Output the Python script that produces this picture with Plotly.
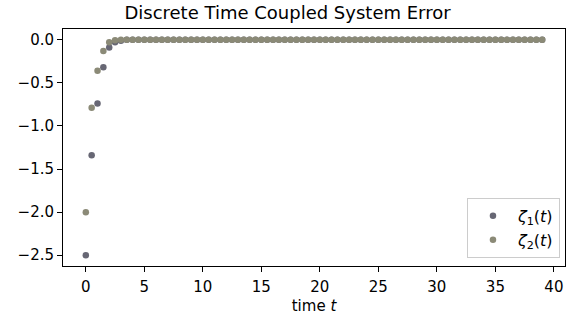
import plotly.graph_objects as go

time = [
    0.0, 0.5, 1.0, 1.5, 2.0, 2.5, 3.0, 3.5, 4.0, 4.5,
    5.0, 5.5, 6.0, 6.5, 7.0, 7.5, 8.0, 8.5, 9.0, 9.5,
    10.0, 10.5, 11.0, 11.5, 12.0, 12.5, 13.0, 13.5, 14.0, 14.5,
    15.0, 15.5, 16.0, 16.5, 17.0, 17.5, 18.0, 18.5, 19.0, 19.5,
    20.0, 20.5, 21.0, 21.5, 22.0, 22.5, 23.0, 23.5, 24.0, 24.5,
    25.0, 25.5, 26.0, 26.5, 27.0, 27.5, 28.0, 28.5, 29.0, 29.5,
    30.0, 30.5, 31.0, 31.5, 32.0, 32.5, 33.0, 33.5, 34.0, 34.5,
    35.0, 35.5, 36.0, 36.5, 37.0, 37.5, 38.0, 38.5, 39.0,
]

zeta1 = [
    -2.5, -1.34, -0.74, -0.32, -0.09, -0.03, -0.01,
    0, 0, 0, 0, 0, 0, 0, 0, 0, 0, 0, 0,
    0, 0, 0, 0, 0, 0, 0, 0, 0, 0, 0, 0,
    0, 0, 0, 0, 0, 0, 0, 0, 0, 0, 0, 0,
    0, 0, 0, 0, 0, 0, 0, 0, 0, 0, 0, 0,
    0, 0, 0, 0, 0, 0, 0, 0, 0, 0, 0, 0,
    0, 0, 0, 0, 0, 0, 0, 0, 0, 0, 0, 0,
]

zeta2 = [
    -2.0, -0.79, -0.36, -0.13, -0.03, -0.005, -0.001,
    0, 0, 0, 0, 0, 0, 0, 0, 0, 0, 0, 0,
    0, 0, 0, 0, 0, 0, 0, 0, 0, 0, 0, 0,
    0, 0, 0, 0, 0, 0, 0, 0, 0, 0, 0, 0,
    0, 0, 0, 0, 0, 0, 0, 0, 0, 0, 0, 0,
    0, 0, 0, 0, 0, 0, 0, 0, 0, 0, 0, 0,
    0, 0, 0, 0, 0, 0, 0, 0, 0, 0, 0, 0,
]

x_ticks = [0, 5, 10, 15, 20, 25, 30, 35, 40]
y_ticks = [-2.5, -2.0, -1.5, -1.0, -0.5, 0.0]
y_tick_text = ["\u22122.5", "\u22122.0", "\u22121.5", "\u22121.0", "\u22120.5", "0.0"]

FONT = "DejaVu Sans"
FS = 15

fig = go.Figure()
fig.add_trace(go.Scatter(
    x=time, y=zeta1, mode="markers",
    name="<i>ζ</i><sub>1</sub>(<i>t</i>)",
    marker=dict(color="#676774", size=6.5, line=dict(width=0)),
))
fig.add_trace(go.Scatter(
    x=time, y=zeta2, mode="markers",
    name="<i>ζ</i><sub>2</sub>(<i>t</i>)",
    marker=dict(color="#8b8a77", size=6.5, line=dict(width=0)),
))

axis_common = dict(
    showline=True, linecolor="black", linewidth=1, mirror=True,
    ticks="outside", ticklen=5, tickwidth=1, tickcolor="black",
    showgrid=False, zeroline=False,
    tickfont=dict(family=FONT, size=FS, color="black"),
)

fig.update_layout(
    width=575, height=322,
    margin=dict(l=63, r=10, t=29, b=56),
    paper_bgcolor="white", plot_bgcolor="white",
    font=dict(family=FONT, color="black"),
    title=dict(
        text="Discrete Time Coupled System Error",
        x=0.5, xanchor="center", xref="container",
        y=1 - 13 / 322, yanchor="middle", yref="container",
        font=dict(family=FONT, size=18, color="black"),
    ),
    xaxis=dict(
        range=[-1.95, 40.95], tickvals=x_ticks,
        title=dict(text="time <i>t</i>", font=dict(family=FONT, size=FS), standoff=5),
        ticklabelstandoff=2,
        **axis_common,
    ),
    yaxis=dict(
        range=[-2.625, 0.125], tickvals=y_ticks, ticktext=y_tick_text,
        **axis_common,
    ),
    legend=dict(
        x=0.99, y=0.034, xanchor="right", yanchor="bottom",
        bgcolor="white", bordercolor="#cccccc", borderwidth=1,
        font=dict(family=FONT, size=16, color="black"),
        itemwidth=40, tracegroupgap=2,
    ),
    showlegend=True,
)

fig.write_html("out.html")
